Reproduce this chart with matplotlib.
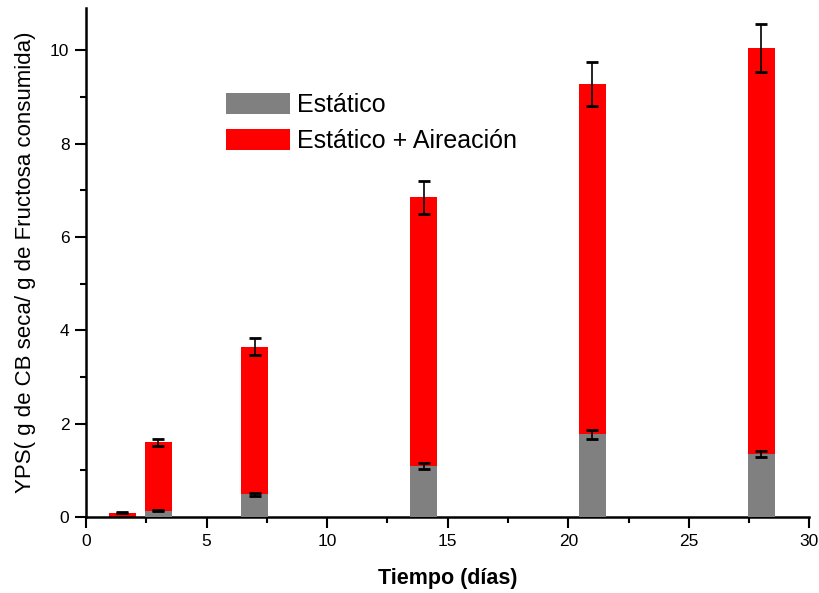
import matplotlib.pyplot as plt
from matplotlib.ticker import MultipleLocator

plt.rcParams['font.family'] = ['Liberation Sans', 'DejaVu Sans']

dias = [1.5, 3, 7, 14, 21, 28]
estatico = [0.0, 0.14, 0.49, 1.10, 1.77, 1.35]
estaticoErr = [0.0, 0.01, 0.03, 0.06, 0.09, 0.06]
aireacion = [0.09, 1.60, 3.65, 6.85, 9.28, 10.05]
aireacionErr = [0.01, 0.08, 0.18, 0.35, 0.47, 0.52]

fig = plt.figure(figsize=(8.2, 5.93), dpi=100)
ax = fig.add_axes([0.105, 0.128, 0.882, 0.858])

barWidth = 1.13
ax.bar(dias, aireacion, width=barWidth, color='#ff0000', label='Estático + Aireación', zorder=2)
ax.bar(dias, estatico, width=barWidth, color='#808080', label='Estático', zorder=3)
ax.errorbar(dias, aireacion, yerr=aireacionErr, fmt='none', ecolor='black',
            elinewidth=1.2, capsize=4.5, capthick=2, zorder=4)
ax.errorbar(dias[1:], estatico[1:], yerr=estaticoErr[1:], fmt='none', ecolor='black',
            elinewidth=1.2, capsize=4.5, capthick=2, zorder=4)

ax.set_xlim(0, 30)
ax.set_ylim(0, 10.9)
ax.xaxis.set_major_locator(MultipleLocator(5))
ax.xaxis.set_minor_locator(MultipleLocator(2.5))
ax.yaxis.set_major_locator(MultipleLocator(2))
ax.yaxis.set_minor_locator(MultipleLocator(1))
ax.tick_params(which='major', direction='out', length=8, width=1.5, labelsize=12.5, pad=4)
ax.tick_params(which='minor', direction='out', length=4, width=1.5)

for side in ['top', 'right']:
    ax.spines[side].set_visible(False)
for side in ['left', 'bottom']:
    ax.spines[side].set_linewidth(1.8)

ax.set_xlabel('Tiempo (días)', fontsize=15.5, fontweight='bold', labelpad=14)
ax.set_ylabel('YPS( g de CB seca/ g de Fructosa consumida)', fontsize=16, labelpad=10)

handles, labels = ax.get_legend_handles_labels()
ax.legend(handles[::-1], labels[::-1], loc='upper left', bbox_to_anchor=(0.162, 0.878),
          frameon=False, fontsize=18, handlelength=2.55, handleheight=0.9,
          labelspacing=0.5, handletextpad=0.3)

plt.savefig('out.png', dpi=100)
